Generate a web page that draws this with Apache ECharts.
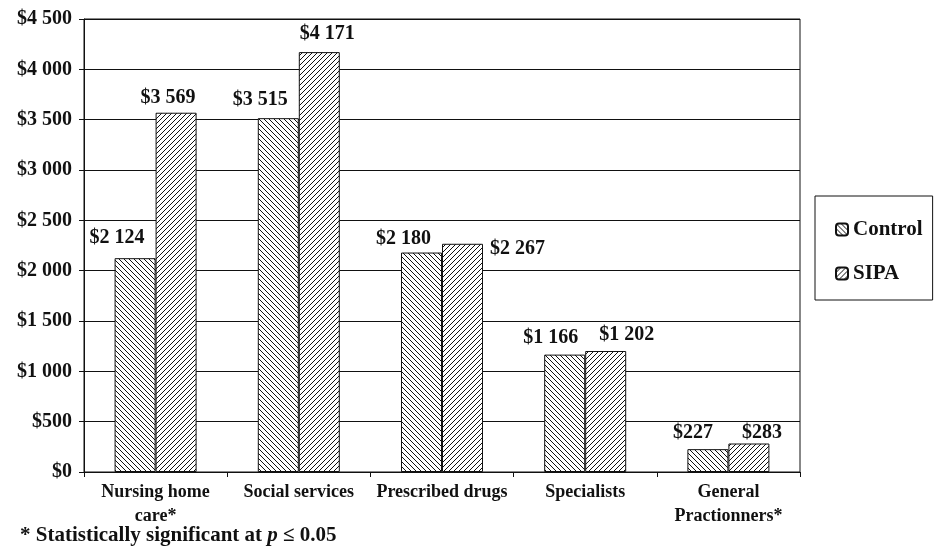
<!DOCTYPE html>
<html>
<head>
<meta charset="utf-8">
<title>Mean costs per person: Control vs SIPA</title>
<script src="https://cdn.jsdelivr.net/npm/echarts@6/dist/echarts.min.js"></script>
<style>
  html, body { margin: 0; padding: 0; background: #fff; }
  #chart { width: 936px; height: 550px; }
</style>
</head>
<body>
<div id="chart"></div>
<script>
// Cost categories and mean cost per person for each group
const categories = ['Nursing home\ncare*', 'Social services', 'Prescribed drugs', 'Specialists', 'General\nPractionners*'];
const controlValues = [2124, 3515, 2180, 1166, 227];
const sipaValues = [3569, 4171, 2267, 1202, 283];
const seriesNames = ['Control', 'SIPA'];
const footnote = '* Statistically significant at {i|p} \u2264 0.05';

// Label nudges (pixels) so each value sits where it reads best
const controlLabelOffsets = [[-18, -10], [-18, -8], [-18, -4], [-14, -7], [-15, -6]];
const sipaLabelOffsets = [[-8, -5], [8, -8], [55, 15], [21, -6], [13, -1]];

const FONT = "'Liberation Serif', 'Times New Roman', serif";

// "$4 500" style money formatting with a space as thousands separator
function money(v) {
  if (v >= 1000) {
    return '$' + Math.floor(v / 1000) + ' ' + String(v % 1000).padStart(3, '0');
  }
  return '$' + v;
}

// Hatch tile: backslash ("\\") or slash ("/") diagonal lines on white
function hatch(dir) {
  const s = 5;
  const c = document.createElement('canvas');
  c.width = s; c.height = s;
  const ctx = c.getContext('2d');
  ctx.fillStyle = '#fff';
  ctx.fillRect(0, 0, s, s);
  ctx.strokeStyle = '#111';
  ctx.lineWidth = 1;
  ctx.beginPath();
  for (let k = -1; k <= 1; k++) {
    if (dir === 'back') {
      ctx.moveTo(k * s, 0); ctx.lineTo(k * s + s, s);
    } else {
      ctx.moveTo(k * s, s); ctx.lineTo(k * s + s, 0);
    }
  }
  ctx.stroke();
  return { image: c, repeat: 'repeat' };
}

function buildData(values, offsets) {
  return values.map((v, i) => ({ value: v, label: { offset: offsets[i] } }));
}

const chart = echarts.init(document.getElementById('chart'), null, { renderer: 'canvas' });

const labelStyle = {
  show: true,
  position: 'top',
  distance: 0,
  fontFamily: FONT,
  fontWeight: 'bold',
  fontSize: 20,
  color: '#111',
  formatter: p => money(p.value)
};

chart.setOption({
  animation: false,
  backgroundColor: '#fff',
  textStyle: { fontFamily: FONT },
  grid: {
    left: 84, top: 19, right: 136, bottom: 78,
    show: true, borderColor: '#111', borderWidth: 1, backgroundColor: '#fff'
  },
  legend: {
    orient: 'vertical',
    left: 815, top: 196,
    padding: [23, 10, 16, 20],
    itemGap: 23,
    itemWidth: 12, itemHeight: 12,
    borderColor: '#111', borderWidth: 1,
    backgroundColor: '#fff',
    textStyle: { fontFamily: FONT, fontWeight: 'bold', fontSize: 21, color: '#111' },
    data: seriesNames
  },
  xAxis: {
    type: 'category',
    data: categories,
    axisLine: { lineStyle: { color: '#111', width: 1 } },
    axisTick: { show: true, length: 5, lineStyle: { color: '#111' } },
    axisLabel: {
      fontFamily: FONT, fontWeight: 'bold', fontSize: 18, color: '#111',
      lineHeight: 24, margin: 8, interval: 0
    }
  },
  yAxis: {
    type: 'value',
    min: 0, max: 4500, interval: 500,
    axisLine: { show: true, lineStyle: { color: '#111', width: 1 } },
    axisTick: { show: true, length: 5, lineStyle: { color: '#111' } },
    splitLine: { show: true, lineStyle: { color: '#111', width: 1 } },
    axisLabel: {
      fontFamily: FONT, fontWeight: 'bold', fontSize: 20, color: '#111',
      margin: 12, formatter: v => money(v)
    }
  },
  series: [
    {
      name: seriesNames[0],
      type: 'bar',
      barWidth: 41,
      barGap: '0%',
      itemStyle: { color: hatch('back'), borderColor: '#111', borderWidth: 1 },
      label: labelStyle,
      data: buildData(controlValues, controlLabelOffsets)
    },
    {
      name: seriesNames[1],
      type: 'bar',
      barWidth: 41,
      barGap: '0%',
      itemStyle: { color: hatch('fwd'), borderColor: '#111', borderWidth: 1 },
      label: labelStyle,
      data: buildData(sipaValues, sipaLabelOffsets)
    }
  ],
  graphic: [
    {
      type: 'text',
      left: 20,
      top: 525,
      style: {
        text: footnote,
        fontFamily: FONT,
        fontWeight: 'bold',
        fontSize: 21,
        fill: '#111',
        rich: {
          i: { fontFamily: FONT, fontWeight: 'bold', fontStyle: 'italic', fontSize: 21, fill: '#111' }
        }
      }
    }
  ]
});
</script>
</body>
</html>
